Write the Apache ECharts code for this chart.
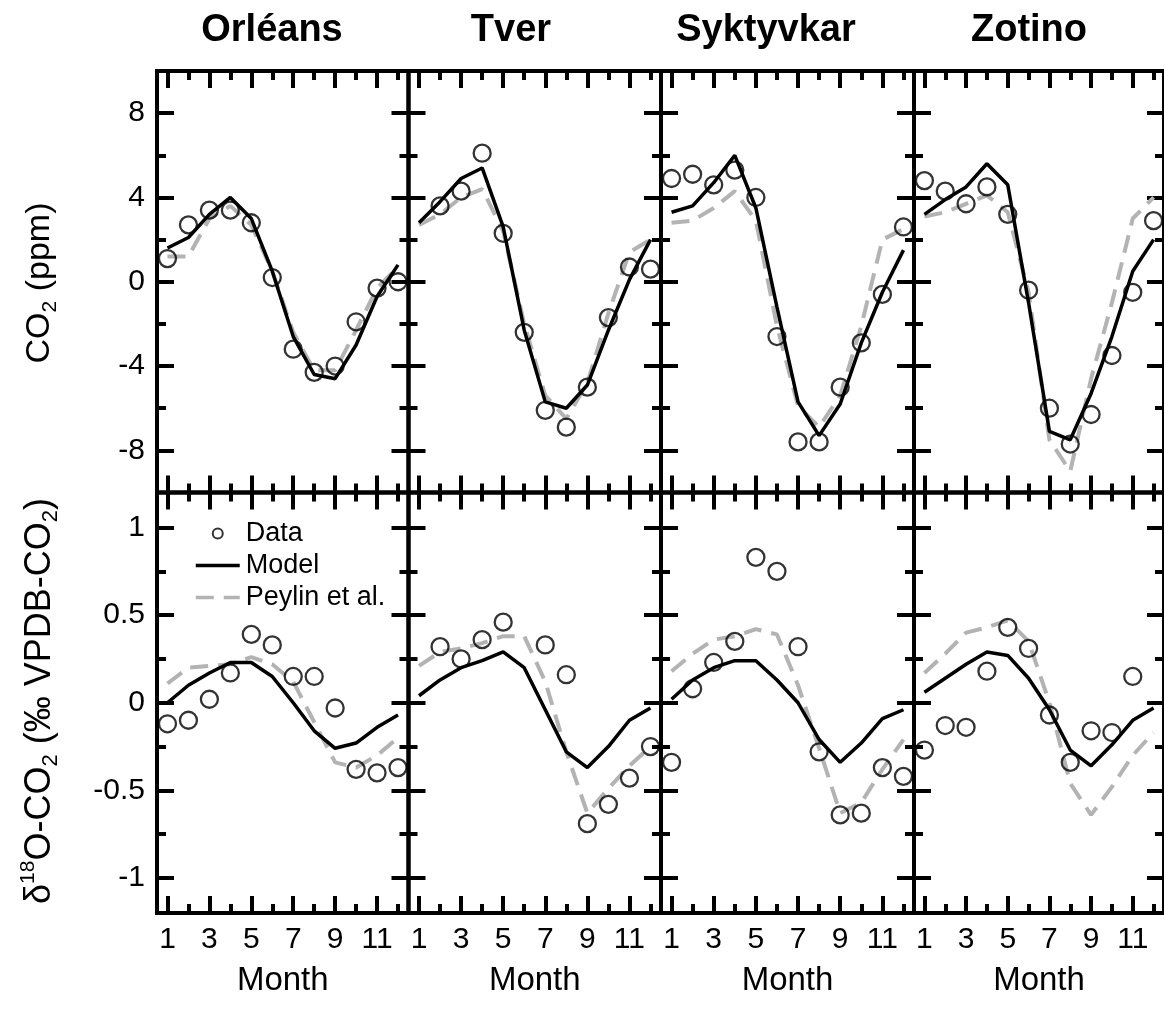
<!DOCTYPE html>
<html><head><meta charset="utf-8">
<script src="https://cdn.jsdelivr.net/npm/echarts@6/dist/echarts.min.js"></script>
<style>html,body{margin:0;padding:0;background:#fff}#c{width:1164px;height:1015px}</style>
</head><body><div id="c"></div>
<script>
const MONTHS = [1,2,3,4,5,6,7,8,9,10,11,12];
const SITES = ['Orléans','Tver','Syktyvkar','Zotino'];
const SERIES_NAMES = ['Data','Model','Peylin et al.'];

// CO2 seasonal cycle (ppm)
const co2_obs_orleans   = [1.1, 2.7, 3.4, 3.4, 2.8, 0.2, -3.2, -4.3, -4.0, -1.9, -0.3, 0.0];
const co2_model_orleans = [1.6, 2.1, 3.2, 4.0, 3.0, 0.5, -2.6, -4.4, -4.6, -3.0, -0.7, 0.8];
const co2_peyl_orleans  = [1.2, 1.2, 3.0, 3.6, 2.7, 0.5, -2.4, -4.2, -4.2, -2.3, -0.3, 0.7];

const co2_obs_tver   = [null, 3.6, 4.3, 6.1, 2.3, -2.4, -6.1, -6.9, -5.0, -1.7, 0.7, 0.6];
const co2_model_tver = [2.8, 3.8, 4.9, 5.4, 2.6, -2.3, -5.7, -6.0, -4.9, -2.3, 0.1, 2.0];
const co2_peyl_tver  = [2.7, 3.2, 4.0, 4.4, 2.4, -2.0, -5.4, -6.5, -4.8, -1.5, 1.4, 2.0];

const co2_obs_syktyvkar   = [4.9, 5.1, 4.6, 5.3, 4.0, -2.6, -7.6, -7.6, -5.0, -2.9, -0.6, 2.6];
const co2_model_syktyvkar = [3.3, 3.6, 4.7, 6.0, 3.5, -1.2, -5.7, -7.3, -5.8, -2.9, -0.5, 1.5];
const co2_peyl_syktyvkar  = [2.8, 2.9, 3.5, 4.3, 2.9, -2.1, -5.9, -6.9, -5.4, -2.1, 2.0, 2.5];

const co2_obs_zotino   = [4.8, 4.3, 3.7, 4.5, 3.2, -0.4, -6.0, -7.7, -6.3, -3.5, -0.5, 2.9];
const co2_model_zotino = [3.2, 3.9, 4.5, 5.6, 4.6, -1.0, -7.1, -7.5, -5.3, -2.6, 0.5, 2.0];
const co2_peyl_zotino  = [3.1, 3.3, 3.7, 4.1, 3.3, -0.5, -7.5, -9.0, -4.6, -1.0, 3.0, 4.0];

// d18O-CO2 seasonal cycle (permil VPDB-CO2)
const d18_obs_orleans   = [-0.12, -0.10, 0.02, 0.17, 0.39, 0.33, 0.15, 0.15, -0.03, -0.38, -0.40, -0.37];
const d18_model_orleans = [0.00, 0.10, 0.17, 0.23, 0.23, 0.15, 0.00, -0.16, -0.26, -0.23, -0.14, -0.07];
const d18_peyl_orleans  = [0.11, 0.20, 0.21, 0.22, 0.26, 0.22, 0.12, -0.11, -0.34, -0.37, -0.30, -0.20];

const d18_obs_tver   = [null, 0.32, 0.25, 0.36, 0.46, null, 0.33, 0.16, -0.69, -0.58, -0.43, -0.25];
const d18_model_tver = [0.04, 0.13, 0.20, 0.24, 0.29, 0.20, -0.04, -0.28, -0.37, -0.25, -0.10, -0.03];
const d18_peyl_tver  = [0.21, 0.29, 0.31, 0.34, 0.38, 0.38, 0.12, -0.28, -0.63, -0.49, -0.36, -0.25];

const d18_obs_syktyvkar   = [-0.34, 0.08, 0.23, 0.35, 0.83, 0.75, 0.32, -0.28, -0.64, -0.63, -0.37, -0.42];
const d18_model_syktyvkar = [0.02, 0.13, 0.20, 0.24, 0.24, 0.13, 0.00, -0.21, -0.34, -0.23, -0.09, -0.04];
const d18_peyl_syktyvkar  = [0.18, 0.28, 0.36, 0.38, 0.42, 0.39, 0.10, -0.26, -0.63, -0.57, -0.38, -0.21];

const d18_obs_zotino   = [-0.27, -0.13, -0.14, 0.18, 0.43, 0.31, -0.07, -0.34, -0.16, -0.17, 0.15, null];
const d18_model_zotino = [0.06, 0.14, 0.22, 0.29, 0.27, 0.14, -0.04, -0.27, -0.36, -0.24, -0.10, -0.03];
const d18_peyl_zotino  = [0.17, 0.28, 0.40, 0.43, 0.47, 0.35, 0.00, -0.46, -0.64, -0.48, -0.30, -0.17];

// tick values
const X_MAJOR = [1,3,5,7,9,11];
const X_MINOR = [2,4,6,8,10,12];
const CO2_MAJOR = [-8,-4,0,4,8];
const CO2_MINOR = [-6,-2,2,6];
const D18_MAJOR = [-1,-0.5,0,0.5,1];
const D18_MINOR = [-0.75,-0.25,0.25,0.75];

const ROWS = [
  { range: [-10, 10], major: CO2_MAJOR, minor: CO2_MINOR,
    obs:   [co2_obs_orleans, co2_obs_tver, co2_obs_syktyvkar, co2_obs_zotino],
    model: [co2_model_orleans, co2_model_tver, co2_model_syktyvkar, co2_model_zotino],
    peyl:  [co2_peyl_orleans, co2_peyl_tver, co2_peyl_syktyvkar, co2_peyl_zotino] },
  { range: [-1.2, 1.2], major: D18_MAJOR, minor: D18_MINOR,
    obs:   [d18_obs_orleans, d18_obs_tver, d18_obs_syktyvkar, d18_obs_zotino],
    model: [d18_model_orleans, d18_model_tver, d18_model_syktyvkar, d18_model_zotino],
    peyl:  [d18_peyl_orleans, d18_peyl_tver, d18_peyl_syktyvkar, d18_peyl_zotino] }
];

const FONT = "'Liberation Sans', Arial, Helvetica, sans-serif";
const colLeft = [157, 408.5, 661, 914];
const colWidth = [251.5, 252.5, 253, 252];
const rowTop = [71, 492.5];
const rowHeight = [421.5, 420.5];
const titleX = [272, 511, 766, 1029];
const MAJ_LEN = 17, MIN_LEN = 9, TICK_W = 4;

const grid = [], xAxis = [], yAxis = [], series = [];
const pairs = arr => MONTHS.map((m, i) => [m, arr[i]]).filter(p => p[1] !== null);

function tick(len, vals) {
  return { show: true, inside: true, length: len, customValues: vals,
           lineStyle: { color: '#000', width: TICK_W } };
}
function xAx(g, pos, vals, len, labels) {
  return { type: 'value', gridIndex: g, position: pos, min: 0.5, max: 12.5,
    axisLine: { show: false, onZero: false }, splitLine: { show: false },
    axisTick: tick(len, vals),
    axisLabel: { show: !!labels, customValues: vals, color: '#000', fontFamily: FONT, fontSize: 30, margin: 12 },
    name: labels ? 'Month' : '', nameLocation: 'middle', nameGap: 51,
    nameTextStyle: { color: '#000', fontFamily: FONT, fontSize: 33 } };
}
function yAx(g, pos, range, vals, len, labels) {
  return { type: 'value', gridIndex: g, position: pos, min: range[0], max: range[1],
    axisLine: { show: false, onZero: false }, splitLine: { show: false },
    axisTick: tick(len, vals),
    axisLabel: { show: !!labels, customValues: vals, color: '#000', fontFamily: FONT, fontSize: 30, margin: 12 } };
}

ROWS.forEach((row, r) => {
  for (let c = 0; c < 4; c++) {
    const rect = { left: colLeft[c], top: rowTop[r], width: colWidth[c], height: rowHeight[r] };
    // main grid: frame, major ticks, data
    const g = grid.length;
    grid.push(Object.assign({ show: true, borderColor: '#000', borderWidth: 4,
      backgroundColor: 'rgba(0,0,0,0)', containLabel: false }, rect));
    const xi = xAxis.length, yi = yAxis.length;
    xAxis.push(xAx(g, 'bottom', X_MAJOR, MAJ_LEN, r === 1));
    xAxis.push(xAx(g, 'top', X_MAJOR, MAJ_LEN, false));
    yAxis.push(yAx(g, 'left', row.range, row.major, MAJ_LEN, c === 0));
    yAxis.push(yAx(g, 'right', row.range, row.major, MAJ_LEN, false));
    // overlay grid: minor ticks
    const g2 = grid.length;
    grid.push(Object.assign({ show: false, containLabel: false }, rect));
    xAxis.push(xAx(g2, 'bottom', X_MINOR, MIN_LEN, false));
    xAxis.push(xAx(g2, 'top', X_MINOR, MIN_LEN, false));
    yAxis.push(yAx(g2, 'left', row.range, row.minor, MIN_LEN, false));
    yAxis.push(yAx(g2, 'right', row.range, row.minor, MIN_LEN, false));

    series.push({ type: 'line', name: SERIES_NAMES[2], xAxisIndex: xi, yAxisIndex: yi,
      data: pairs(row.peyl[c]), symbol: 'none', z: 2, silent: true,
      itemStyle: { color: '#b3b3b3' },
      lineStyle: { color: '#b3b3b3', width: 4, type: [18, 10] } });
    series.push({ type: 'line', name: SERIES_NAMES[1], xAxisIndex: xi, yAxisIndex: yi,
      data: pairs(row.model[c]), symbol: 'none', z: 3, silent: true,
      itemStyle: { color: '#000' },
      lineStyle: { color: '#000', width: 3.5 } });
    series.push({ type: 'scatter', name: SERIES_NAMES[0], xAxisIndex: xi, yAxisIndex: yi,
      data: pairs(row.obs[c]), symbol: 'circle', symbolSize: 17, z: 4, silent: true,
      itemStyle: { color: 'rgba(255,255,255,0)', borderColor: '#000', borderWidth: 2.3 } });
  }
});

const graphic = SITES.map((s, c) => ({
  type: 'text', x: titleX[c], y: 31,
  style: { text: s, fill: '#000', font: 'bold 38px ' + FONT, align: 'center', verticalAlign: 'middle' }
}));
function richSet(size) {
  return {
    a: { fontSize: size, fontFamily: FONT, fill: '#000', lineHeight: size + 8 },
    s: { fontSize: Math.round(size * 0.62), fontFamily: FONT, fill: '#000', lineHeight: Math.round(size * 0.77), verticalAlign: 'bottom' },
    p: { fontSize: Math.round(size * 0.58), fontFamily: FONT, fill: '#000', lineHeight: Math.round(size * 0.77), verticalAlign: 'top' }
  };
}
graphic.push({ type: 'text', x: 40, y: 283, rotation: Math.PI / 2,
  style: { text: '{a|CO}{s|2}{a| (ppm)}', rich: richSet(34), align: 'center', verticalAlign: 'middle' } });
graphic.push({ type: 'text', x: 40, y: 701, rotation: Math.PI / 2,
  style: { text: '{a|δ}{p|18}{a|O-CO}{s|2}{a| (‰ VPDB-CO}{s|2}{a|)}', rich: richSet(36), align: 'center', verticalAlign: 'middle' } });

const chart = echarts.init(document.getElementById('c'), null, { renderer: 'canvas' });
chart.setOption({
  animation: false,
  backgroundColor: '#fff',
  grid, xAxis, yAxis, series, graphic,
  legend: {
    orient: 'vertical', left: 189, top: 515, itemWidth: 44, itemHeight: 10, itemGap: 5,
    selectedMode: false,
    data: [
      { name: 'Data' },
      { name: 'Model', itemStyle: { opacity: 0 } },
      { name: 'Peylin et al.', itemStyle: { opacity: 0 } }
    ],
    textStyle: { fontFamily: FONT, fontSize: 27, color: '#000', padding: [0, 0, 0, 1] },
    lineStyle: { width: 3.5 }
  }
});
</script></body></html>
